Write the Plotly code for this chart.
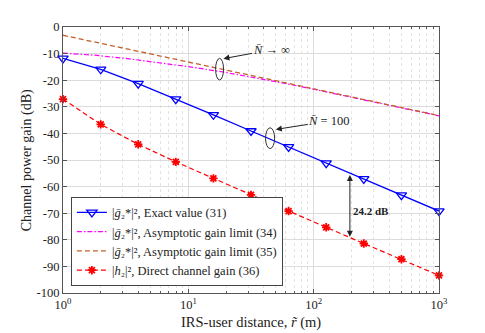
import plotly.graph_objects as go

# ---- data ----
r_markers = [1, 2, 3.98, 7.94, 15.85, 31.62, 63.1, 125.9, 251.2, 501.2, 1000]
exact_31 = [-11.8, -15.9, -21.3, -27.1, -33.0, -39.1, -45.1, -51.2, -57.1, -63.2, -69.2]
direct_36 = [-27.1, -36.6, -44.1, -50.7, -56.9, -63.1, -69.2, -75.3, -81.4, -87.3, -93.4]

r_curve = [1, 1.78, 3.16, 5.62, 10, 17.8, 31.6, 56.2, 100, 178, 316, 562, 1000]
asym_34 = [-9.8, -10.6, -11.8, -13.3, -14.9, -16.7, -18.8, -21.0, -23.4, -25.9, -28.4, -30.9, -33.4]
asym_35 = [-3.1, -5.6, -8.1, -10.7, -13.2, -15.7, -18.2, -20.7, -23.2, -25.8, -28.3, -30.8, -33.3]

x_tickvals = [1, 10, 100, 1000]
x_ticktext = ["10<sup>0</sup>", "10<sup>1</sup>", "10<sup>2</sup>", "10<sup>3</sup>"]
x_minor = [2, 3, 4, 5, 6, 7, 8, 9, 20, 30, 40, 50, 60, 70, 80, 90,
           200, 300, 400, 500, 600, 700, 800, 900]
y_tickvals = [0, -10, -20, -30, -40, -50, -60, -70, -80, -90, -100]
y_ticktext = ["0", "-10", "-20", "-30", "-40", "-50", "-60", "-70", "-80", "-90", "-100"]

names = [
    "|<i>ḡ</i>₂*|², Exact value (31)",
    "|<i>ḡ</i>₂*|², Asymptotic gain limit (34)",
    "|<i>ḡ</i>₂*|², Asymptotic gain limit (35)",
    "|<i>h</i>₂|², Direct channel gain (36)",
]

FONT = "Liberation Serif"

fig = go.Figure()
fig.add_trace(go.Scatter(
    x=r_markers, y=exact_31, mode="lines+markers", name=names[0],
    line=dict(color="#0000ff", width=1.3),
    marker=dict(symbol="triangle-down-open", size=9, color="#0000ff", line=dict(width=1.3)),
    cliponaxis=False,
))
fig.add_trace(go.Scatter(
    x=r_curve, y=asym_34, mode="lines", name=names[1],
    line=dict(color="#ff00ff", width=1.2, dash="5px,2px,1.5px,2px"),
))
fig.add_trace(go.Scatter(
    x=r_curve, y=asym_35, mode="lines", name=names[2],
    line=dict(color="#c0602a", width=1.3, dash="5px,3px"),
))
fig.add_trace(go.Scatter(
    x=r_markers, y=direct_36, mode="lines+markers", name=names[3],
    line=dict(color="#ff0000", width=1.2, dash="5px,3px"),
    marker=dict(symbol="asterisk-open", size=7, color="#ff0000", line=dict(width=1.8, color="#ff0000")),
    cliponaxis=False,
))

# ellipses
fig.add_shape(type="circle", xref="x", yref="y", x0=16.5, x1=19.1, y0=-19.9, y1=-11.8,
              line=dict(color="#333333", width=1))
fig.add_shape(type="circle", xref="x", yref="y", x0=41.3, x1=48.8, y0=-45.7, y1=-37.9,
              line=dict(color="#333333", width=1))

# labelled arrows (annotations on log axis use log10 positions)
fig.add_annotation(x=1.28, y=-11.9, ax=1.66, ay=-8.6, xref="x", yref="y", axref="x", ayref="y",
                   text="<i>N̄</i> → ∞", showarrow=True, arrowhead=2, arrowsize=1.2,
                   arrowwidth=1, arrowcolor="#222", borderpad=0,
                   font=dict(family=FONT, size=12.5, color="#222"))
fig.add_annotation(x=1.698, y=-38.5, ax=2.12, ay=-35.4, xref="x", yref="y", axref="x", ayref="y",
                   text="<i>N̄</i> = 100", showarrow=True, arrowhead=2, arrowsize=1.2,
                   arrowwidth=1, arrowcolor="#222", borderpad=0,
                   font=dict(family=FONT, size=12.5, color="#222"))
fig.add_annotation(x=2.289, y=-55.6, ax=2.289, ay=-79.4, xref="x", yref="y", axref="x", ayref="y",
                   text="", showarrow=True, arrowhead=2, startarrowhead=2, arrowside="end+start",
                   arrowsize=1.2, startarrowsize=1.2, arrowwidth=1, arrowcolor="#222")
fig.add_annotation(x=2.46, y=-69.0, xref="x", yref="y", text="<b>24.2 dB</b>", showarrow=False,
                   font=dict(family=FONT, size=11, color="#222"))

# axis titles
fig.add_annotation(x=-0.095, y=0.5, xref="paper", yref="paper", textangle=-90,
                   text="Channel power gain (dB)", showarrow=False,
                   xanchor="center", yanchor="middle",
                   font=dict(family=FONT, size=14, color="#222"))
fig.add_annotation(x=0.5, y=-0.112, xref="paper", yref="paper",
                   text="IRS-user distance, <i>r̃</i> (m)", showarrow=False,
                   xanchor="center", yanchor="middle",
                   font=dict(family=FONT, size=14.5, color="#222"))

fig.update_layout(
    width=477, height=325,
    margin=dict(l=55, r=46, t=17, b=40),
    paper_bgcolor="white", plot_bgcolor="white",
    font=dict(family=FONT, size=12, color="#222"),
    showlegend=True,
    legend=dict(x=0.021, y=0.027, xanchor="left", yanchor="bottom",
                bgcolor="white", bordercolor="#444", borderwidth=1,
                font=dict(family=FONT, size=12.5, color="#222"),
                itemwidth=30, tracegroupgap=0),
    xaxis=dict(
        type="log", range=[0, 3],
        tickmode="array", tickvals=x_tickvals, ticktext=x_ticktext,
        ticks="inside", ticklen=4, tickcolor="#555",
        showline=True, linecolor="#555", linewidth=1, mirror="ticks",
        showgrid=True, gridcolor="#dcdcdc", gridwidth=1,
        zeroline=False,
        tickfont=dict(family=FONT, size=12.5, color="#222"),
        minor=dict(tickmode="array", tickvals=x_minor, ticks="inside", ticklen=2, tickcolor="#555",
                   showgrid=True, gridcolor="#e3e3e3", griddash="dot", gridwidth=1),
    ),
    yaxis=dict(
        range=[-100, 0],
        tickmode="array", tickvals=y_tickvals, ticktext=y_ticktext,
        ticks="inside", ticklen=4, tickcolor="#555",
        showline=True, linecolor="#555", linewidth=1, mirror="ticks",
        showgrid=True, gridcolor="#dcdcdc", gridwidth=1,
        zeroline=False,
        tickfont=dict(family=FONT, size=12.5, color="#222"),
    ),
)

fig.write_html("out.html")
